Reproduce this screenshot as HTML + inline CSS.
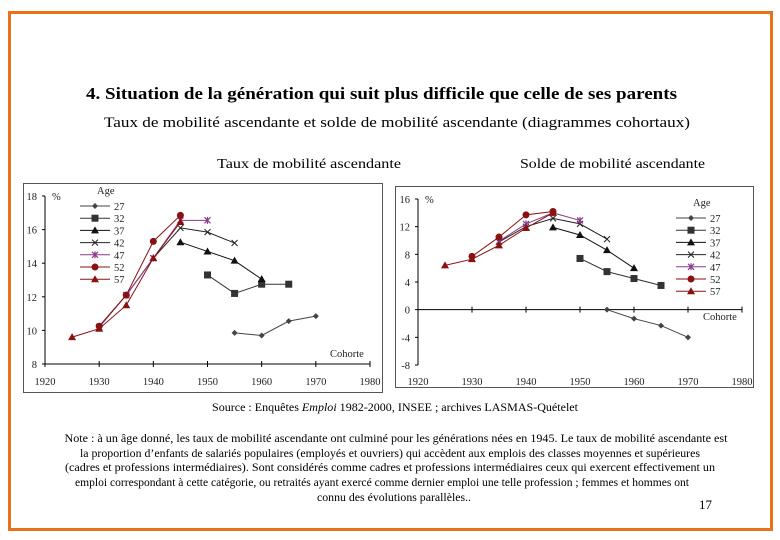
<!DOCTYPE html>
<html><head><meta charset="utf-8"><style>
html,body{margin:0;padding:0;background:#fff;}
svg{display:block;font-family:"Liberation Serif",serif;}
</style></head><body>
<svg id="svg" width="780" height="540" viewBox="0 0 780 540" xmlns="http://www.w3.org/2000/svg">
<rect x="9.5" y="12.5" width="762" height="517" fill="#fff" stroke="#e8721c" stroke-width="3"/>
<text x="86" y="99" font-size="17" font-weight="bold" textLength="591" lengthAdjust="spacingAndGlyphs">4. Situation de la génération qui suit plus difficile que celle de ses parents</text>
<text x="104" y="127" font-size="14.5" textLength="586" lengthAdjust="spacingAndGlyphs">Taux de mobilité ascendante et solde de mobilité ascendante (diagrammes cohortaux)</text>
<text x="217" y="168" font-size="14" textLength="184" lengthAdjust="spacingAndGlyphs">Taux de mobilité ascendante</text>
<text x="520" y="168" font-size="14" textLength="185" lengthAdjust="spacingAndGlyphs">Solde de mobilité ascendante</text>
<g id="left"></g>
<g id="right"></g>
<text x="212" y="411" font-size="12" textLength="366" lengthAdjust="spacingAndGlyphs">Source : Enquêtes <tspan font-style="italic">Emploi</tspan> 1982-2000, INSEE ; archives LASMAS-Quételet</text>
<g font-size="11.5" text-anchor="middle">
<text x="396" y="442" textLength="663" lengthAdjust="spacingAndGlyphs">Note : à un âge donné, les taux de mobilité ascendante ont culminé pour les générations nées en 1945. Le taux de mobilité ascendante est</text>
<text x="390" y="457" textLength="620" lengthAdjust="spacingAndGlyphs">la proportion d’enfants de salariés populaires (employés et ouvriers) qui accèdent aux emplois des classes moyennes et supérieures</text>
<text x="390" y="471" textLength="650" lengthAdjust="spacingAndGlyphs">(cadres et professions intermédiaires). Sont considérés comme cadres et professions intermédiaires ceux qui exercent effectivement un</text>
<text x="382" y="486" textLength="614" lengthAdjust="spacingAndGlyphs">emploi correspondant à cette catégorie, ou retraités ayant exercé comme dernier emploi une telle profession ; femmes et hommes ont</text>
<text x="394" y="501" textLength="154" lengthAdjust="spacingAndGlyphs">connu des évolutions parallèles..</text>
</g>
<text x="699" y="509" font-size="13">17</text>
</svg>
<script>
const years = [1925,1930,1935,1940,1945,1950,1955,1960,1965,1970];
const ages = ['27','32','37','42','47','52','57'];
// left: taux de mobilité ascendante
const L27 = [null,null,null,null,null,null,9.85,9.7,10.55,10.85];
const L32 = [null,null,null,null,null,13.3,12.2,12.75,12.75,null];
const L37 = [null,null,null,null,15.25,14.7,14.15,13.05,null,null];
const L42 = [null,10.2,12.1,14.3,16.1,15.85,15.2,null,null,null];
const L47 = [null,10.2,12.1,14.3,16.55,16.55,null,null,null,null];
const L52 = [null,10.25,12.1,15.3,16.85,null,null,null,null,null];
const L57 = [9.6,10.1,11.5,14.3,16.45,null,null,null,null,null];
// right: solde de mobilité ascendante
const R27 = [null,null,null,null,null,null,0,-1.3,-2.3,-4];
const R32 = [null,null,null,null,null,7.4,5.5,4.5,3.5,null];
const R37 = [null,null,null,null,11.9,10.8,8.6,6.0,null,null];
const R42 = [null,null,9.8,12.0,13.2,12.4,10.2,null,null,null];
const R47 = [null,null,9.9,12.4,14.0,12.9,null,null,null,null];
const R52 = [null,7.7,10.5,13.7,14.2,null,null,null,null,null];
const R57 = [6.4,7.3,9.3,11.8,14.0,null,null,null,null,null];
const xTicks = [1920,1930,1940,1950,1960,1970,1980];
const leftYTicks = [8,10,12,14,16,18];
const rightYTicks = [-8,-4,0,4,8,12,16];

const NS='http://www.w3.org/2000/svg';
const colors={'27':'#444','32':'#333','37':'#111','42':'#222','47':'#8a3a8a','52':'#8b1010','57':'#8b1010'};
const marks={'27':'diamond','32':'square','37':'tri','42':'x','47':'star','52':'circle','57':'tri'};
function el(t,a,p){const e=document.createElementNS(NS,t);for(const k in a)e.setAttribute(k,a[k]);p.appendChild(e);return e;}
function marker(g,type,x,y,c){
  let m;
  if(type==='diamond')m=el('polygon',{points:`${x},${y-3} ${x+3},${y} ${x},${y+3} ${x-3},${y}`,fill:c},g);
  else if(type==='square')m=el('rect',{x:x-3.5,y:y-3.5,width:7,height:7,fill:c},g);
  else if(type==='tri')m=el('polygon',{points:`${x},${y-4} ${x+4},${y+3} ${x-4},${y+3}`,fill:c},g);
  else if(type==='circle')m=el('circle',{cx:x,cy:y,r:3.5,fill:c},g);
  else if(type==='x')m=el('path',{d:`M${x-3} ${y-3}L${x+3} ${y+3}M${x-3} ${y+3}L${x+3} ${y-3}`,stroke:c,'stroke-width':1},g);
  else m=el('path',{d:`M${x-3} ${y-3}L${x+3} ${y+3}M${x-3} ${y+3}L${x+3} ${y-3}M${x} ${y-3.5}L${x} ${y+3.5}`,stroke:c,'stroke-width':1.2},g);
  
  
}
function chart(gid,cfg){
  const g=document.getElementById(gid);
  const X=v=>cfg.x0+(v-1920)/60*(cfg.x1-cfg.x0);
  const Y=v=>cfg.yb+(v-cfg.ymin)/(cfg.ymax-cfg.ymin)*(cfg.yt-cfg.yb);
  const fr=el('rect',{x:cfg.fx,y:cfg.fy,width:cfg.fw,height:cfg.fh,fill:'#fff',stroke:'#555','stroke-width':1},g);
  
  
  const ya=el('line',{x1:X(1920),y1:Y(cfg.ymin),x2:X(1920),y2:Y(cfg.ymax),stroke:'#000'},g);
  
  
  const xa=el('line',{x1:X(1920),y1:Y(cfg.xaxisAt),x2:X(1980),y2:Y(cfg.xaxisAt),stroke:'#000'},g);
  
  
  cfg.yticks.forEach(v=>{
    el('line',{x1:X(1920)-3,y1:Y(v),x2:X(1920),y2:Y(v),stroke:'#000'},g);
    const t=el('text',{x:X(1920)-8,y:Y(v)+4,'font-size':10.5,'text-anchor':'end',fill:'#222'},g);
    t.textContent=v;
    
    
  });
  xTicks.forEach(v=>{
    el('line',{x1:X(v),y1:Y(cfg.xaxisAt)-3,x2:X(v),y2:Y(cfg.xaxisAt)+3,stroke:'#000'},g);
    const t=el('text',{x:X(v),y:cfg.xlabY,'font-size':10.5,'text-anchor':'middle',fill:'#222'},g);
    t.textContent=v;
    
    
  });
  const pct=el('text',{x:X(1920)+7,y:Y(cfg.ymax)+4,'font-size':10.5,fill:'#222'},g);
  pct.textContent='%';
  
  
  const ct=el('text',{x:cfg.cohX,y:cfg.cohY,'font-size':10.5,fill:'#222'},g);
  ct.textContent='Cohorte';
  
  
  cfg.series.forEach((s,i)=>{
    const a=ages[i],c=colors[a];
    const sg=el('g',{},g);
    
    
    const pts=[];
    s.forEach((v,j)=>{if(v!==null)pts.push([X(years[j]),Y(v)]);});
    const pl=el('polyline',{points:pts.map(p=>p.join(',')).join(' '),fill:'none',stroke:c,'stroke-width':1},sg);
    
    
    pts.forEach(p=>marker(sg,marks[a],p[0],p[1],c));
  });
  // legend
  const lg=el('g',{},g);
  
  
  const ht=el('text',{x:cfg.lx+17,y:cfg.ly-6,'font-size':10.5,fill:'#222'},lg);
  ht.textContent='Age';
  ages.forEach((a,i)=>{
    const y=cfg.ly+i*12.2+6;
    const e=el('g',{},lg);
    
    
    el('line',{x1:cfg.lx,y1:y,x2:cfg.lx+30,y2:y,stroke:colors[a]},e);
    marker(e,marks[a],cfg.lx+15,y,colors[a]);
    const t=el('text',{x:cfg.lx+34,y:y+4,'font-size':10.5,fill:'#222'},e);
    t.textContent=a;
  });
}
chart('left',{fx:23.5,fy:183.5,fw:359,fh:209,x0:45,x1:370,ymin:8,ymax:18,yb:364,yt:196,xaxisAt:8,xlabY:385,
  yticks:leftYTicks,series:[L27,L32,L37,L42,L47,L52,L57],lx:80,ly:200,cohX:330,cohY:357});
chart('right',{fx:395.5,fy:186.5,fw:358,fh:201,x0:418,x1:742,ymin:-8,ymax:16,yb:365,yt:199,xaxisAt:0,xlabY:385,
  yticks:rightYTicks,series:[R27,R32,R37,R42,R47,R52,R57],lx:676,ly:212,cohX:703,cohY:320});
</script>
</body></html>
